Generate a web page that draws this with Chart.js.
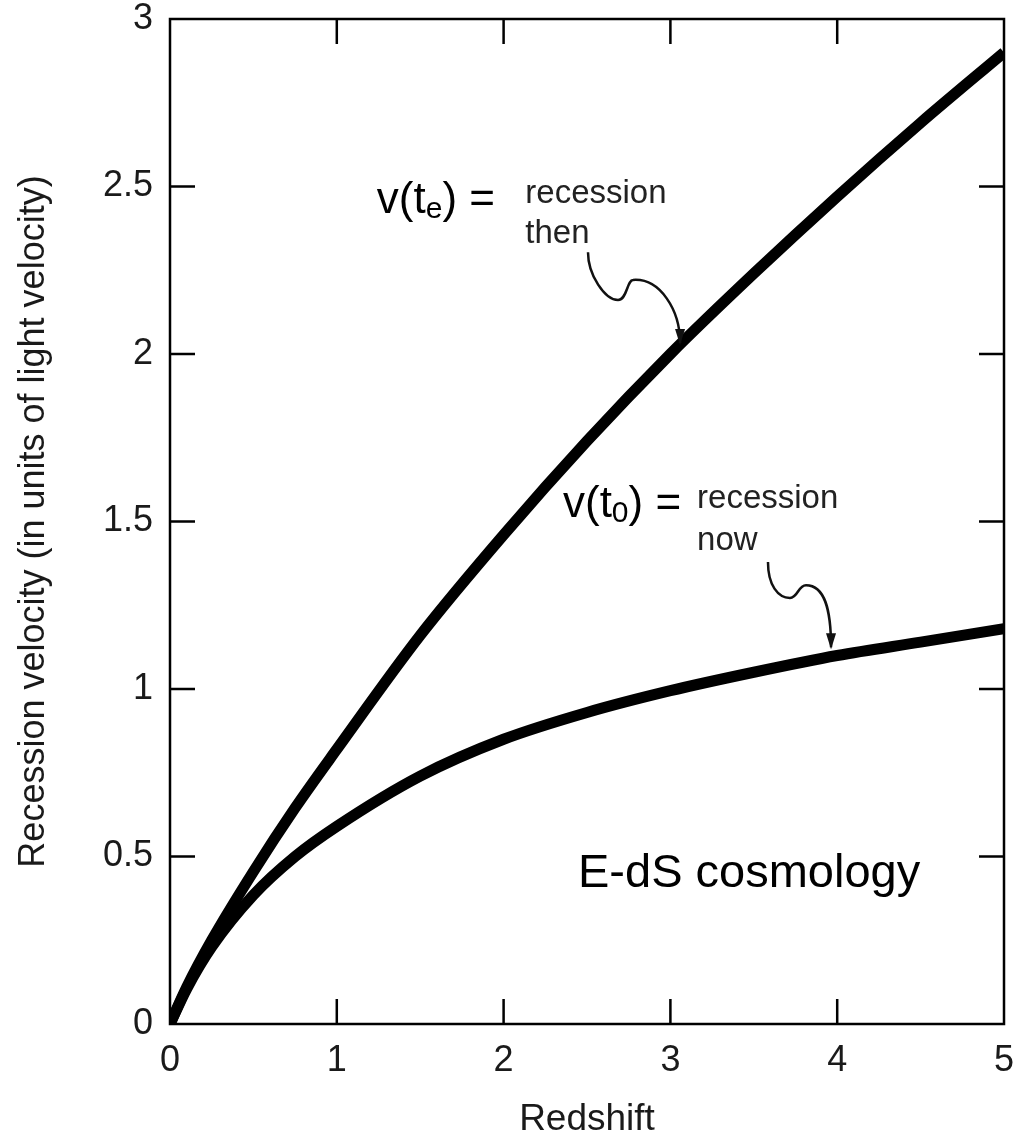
<!DOCTYPE html>
<html>
<head>
<meta charset="utf-8">
<script src="https://cdn.jsdelivr.net/npm/chart.js@4.4.0/dist/chart.umd.min.js"></script>
<style>
  html, body { margin: 0; padding: 0; background: #fff; }
</style>
</head>
<body>
<canvas id="chart" width="1021" height="1138"></canvas>
<script>
// values
const redshift     = [0, 0.1, 0.25, 0.5, 0.75, 1, 1.5, 2, 2.5, 3, 3.5, 4, 4.5, 5];
const velocityThen = [0, 0.11, 0.25, 0.455, 0.645, 0.82, 1.16, 1.46, 1.74, 2.0, 2.24, 2.47, 2.69, 2.9];
const velocityNow  = [0, 0.105, 0.23, 0.385, 0.50, 0.59, 0.74, 0.85, 0.93, 0.995, 1.05, 1.10, 1.14, 1.18];
const xTicks = [0, 1, 2, 3, 4, 5];
const yTicks = [0, 0.5, 1, 1.5, 2, 2.5, 3];

const FONT = "'Liberation Sans', Arial, Helvetica, sans-serif";

const toPoints = ys => redshift.map((z, i) => ({ x: z, y: ys[i] }));

// box round the plot with inward ticks on every side
const framePlugin = {
  id: 'frame',
  afterDatasetsDraw(chart) {
    const { ctx, chartArea: a, scales: { x, y } } = chart;
    const len = 25;
    ctx.save();
    ctx.strokeStyle = '#000';
    ctx.lineWidth = 2.5;
    ctx.strokeRect(a.left, a.top, a.right - a.left, a.bottom - a.top);
    ctx.beginPath();
    xTicks.slice(1, -1).forEach(v => {
      const px = x.getPixelForValue(v);
      ctx.moveTo(px, a.bottom); ctx.lineTo(px, a.bottom - len);
      ctx.moveTo(px, a.top); ctx.lineTo(px, a.top + len);
    });
    yTicks.slice(1, -1).forEach(v => {
      const py = y.getPixelForValue(v);
      ctx.moveTo(a.left, py); ctx.lineTo(a.left + len, py);
      ctx.moveTo(a.right, py); ctx.lineTo(a.right - len, py);
    });
    ctx.stroke();
    ctx.restore();
  }
};

// labels and curly arrows, placed in data units
const notesPlugin = {
  id: 'notes',
  afterDraw(chart) {
    const { ctx, scales: { x, y } } = chart;
    const P = (dx, dy) => [x.getPixelForValue(dx), y.getPixelForValue(dy)];
    ctx.save();
    ctx.fillStyle = '#000';
    ctx.textBaseline = 'alphabetic';
    ctx.textAlign = 'left';

    function velocityLabel(dx, dy, sub) {
      let [px, py] = P(dx, dy);
      ctx.font = '44px ' + FONT;
      ctx.fillText('v(t', px, py);
      px += ctx.measureText('v(t').width;
      ctx.font = '30px ' + FONT;
      ctx.fillText(sub, px, py + 5);
      px += ctx.measureText(sub).width;
      ctx.font = '44px ' + FONT;
      ctx.fillText(') =', px, py);
    }
    function smallText(dx, dy, txt) {
      const [px, py] = P(dx, dy);
      ctx.font = '33px ' + FONT;
      ctx.fillStyle = '#222';
      ctx.fillText(txt, px, py);
      ctx.fillStyle = '#000';
    }
    function curlyArrow(pts) {
      const p = pts.map(q => P(q[0], q[1]));
      ctx.strokeStyle = '#111';
      ctx.lineWidth = 2.5;
      ctx.beginPath();
      ctx.moveTo(p[0][0], p[0][1]);
      for (let i = 1; i + 2 < p.length; i += 3) {
        ctx.bezierCurveTo(p[i][0], p[i][1], p[i + 1][0], p[i + 1][1], p[i + 2][0], p[i + 2][1]);
      }
      ctx.stroke();
      const tip = p[p.length - 1];
      ctx.beginPath();
      ctx.moveTo(tip[0], tip[1] + 2);
      ctx.lineTo(tip[0] - 5, tip[1] - 14);
      ctx.lineTo(tip[0] + 5, tip[1] - 14);
      ctx.closePath();
      ctx.fillStyle = '#111';
      ctx.fill();
      ctx.fillStyle = '#000';
    }

    velocityLabel(1.24, 2.42, 'e');
    smallText(2.13, 2.45, 'recession');
    smallText(2.13, 2.33, 'then');
    curlyArrow([[2.506, 2.304], [2.506, 2.236], [2.608, 2.161], [2.686, 2.161],
                [2.740, 2.161], [2.740, 2.221], [2.776, 2.221],
                [2.938, 2.227], [3.058, 2.131], [3.058, 2.033]]);

    velocityLabel(2.356, 1.513, '0');
    smallText(3.16, 1.54, 'recession');
    smallText(3.16, 1.415, 'now');
    curlyArrow([[3.585, 1.379], [3.585, 1.310], [3.645, 1.272], [3.717, 1.272],
                [3.765, 1.272], [3.765, 1.310], [3.813, 1.310],
                [3.927, 1.310], [3.963, 1.236], [3.963, 1.125]]);

    const [ex, ey] = P(2.446, 0.409);
    ctx.font = '47px ' + FONT;
    ctx.fillText('E-dS cosmology', ex, ey);
    ctx.restore();
  }
};

new Chart(document.getElementById('chart'), {
  type: 'line',
  data: {
    datasets: [
      { label: 'v(te) recession then', data: toPoints(velocityThen) },
      { label: 'v(t0) recession now', data: toPoints(velocityNow) }
    ]
  },
  options: {
    responsive: false,
    animation: false,
    devicePixelRatio: 1,
    layout: { padding: { top: 19, right: 17, left: 0, bottom: 0 } },
    elements: {
      line: { borderColor: '#000', borderWidth: 11, cubicInterpolationMode: 'monotone', fill: false },
      point: { radius: 0 }
    },
    plugins: { legend: { display: false }, tooltip: { enabled: false } },
    scales: {
      x: {
        type: 'linear', min: 0, max: 5,
        grid: { display: false, drawTicks: false },
        border: { display: false },
        afterBuildTicks: s => { s.ticks = xTicks.map(v => ({ value: v })); },
        afterFit: s => { s.height = 114; s.paddingLeft = 0; s.paddingRight = 0; },
        ticks: { color: '#1a1a1a', padding: 19, font: { family: FONT, size: 36, lineHeight: 1 },
                 callback: v => String(v) },
        title: { display: true, text: 'Redshift', color: '#1a1a1a', padding: { top: 0, bottom: 0 },
                 font: { family: FONT, size: 37, lineHeight: 1 } }
      },
      y: {
        type: 'linear', min: 0, max: 3,
        grid: { display: false, drawTicks: false },
        border: { display: false },
        afterBuildTicks: s => { s.ticks = yTicks.map(v => ({ value: v })); },
        afterFit: s => { s.width = 170; s.paddingTop = 0; s.paddingBottom = 0; },
        ticks: { color: '#1a1a1a', padding: 17, font: { family: FONT, size: 36, lineHeight: 1 },
                 callback: v => String(v) },
        title: { display: true, text: 'Recession velocity (in units of light velocity)', color: '#1a1a1a',
                 padding: { top: 12, bottom: 0 }, font: { family: FONT, size: 36, lineHeight: 1.2 } }
      }
    }
  },
  plugins: [framePlugin, notesPlugin]
});
</script>
</body>
</html>
